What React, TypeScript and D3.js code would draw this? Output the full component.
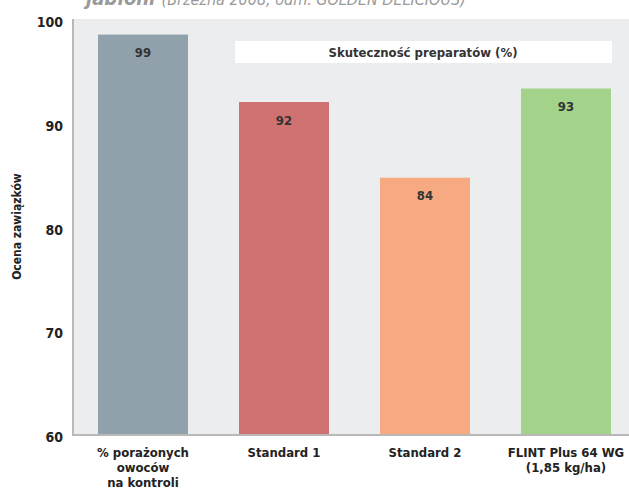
import React, { useEffect, useRef } from 'react';
import * as d3 from 'd3';

// categories (multi-line labels) and values
const categories = [
	['% porażonych', 'owoców', 'na kontroli'],
	['Standard 1'],
	['Standard 2'],
	['FLINT Plus 64 WG', '(1,85 kg/ha)'],
];
const values = [98.5, 92, 84.7, 93.3];
const valueLabels = ['99', '92', '84', '93'];
const colors = ['#91a1ab', '#d07272', '#f7a981', '#a3d28a'];
const yTicks = [60, 70, 80, 90, 100];

const FONT = '"DejaVu Sans Condensed", "DejaVu Sans", sans-serif';

export default function App() {
	const ref = useRef<SVGSVGElement>(null);

	useEffect(() => {
		const svg = d3.select(ref.current);
		svg.selectAll('*').remove();

		const width = 629, height = 491;
		// plot area
		const left = 74, right = 629, top = 19, bottom = 434;

		const y = d3.scaleLinear().domain([60, 100]).range([bottom, top]);
		// step 141, bar 90
		const pad = 51 / 141;
		const x = d3.scaleBand<number>()
			.domain(d3.range(values.length))
			.range([72.5, 636.5])
			.paddingInner(pad)
			.paddingOuter(pad / 2);

		// clipped title at the very top
		const title = svg.append('text')
			.attr('x', 86).attr('y', 5)
			.attr('font-family', FONT)
			.attr('font-style', 'italic')
			.attr('fill', '#9a9a9a');
		title.append('tspan').attr('font-weight', 'bold').attr('font-size', 20).text('jabłoni ');
		title.append('tspan').attr('font-size', 16).text('(Brzezna 2008, odm. GOLDEN DELICIOUS)');

		// background
		svg.append('rect')
			.attr('x', left).attr('y', top)
			.attr('width', right - left).attr('height', bottom - top)
			.attr('fill', '#ecedef');

		// white label box
		svg.append('rect')
			.attr('x', 235).attr('y', 41).attr('width', 377).attr('height', 22)
			.attr('fill', '#ffffff');
		svg.append('text')
			.attr('x', 423).attr('y', 52)
			.attr('text-anchor', 'middle').attr('dominant-baseline', 'central')
			.attr('font-family', FONT).attr('font-weight', 'bold').attr('font-size', 13)
			.attr('fill', '#333')
			.text('Skuteczność preparatów (%)');

		// bars
		const bars = svg.append('g');
		bars.selectAll('rect')
			.data(values)
			.enter()
			.append('rect')
			.attr('x', (d, i) => x(i)!)
			.attr('width', x.bandwidth())
			.attr('y', d => y(d))
			.attr('height', d => bottom - y(d))
			.attr('fill', (d, i) => colors[i]);

		bars.selectAll('text')
			.data(values)
			.enter()
			.append('text')
			.attr('x', (d, i) => x(i)! + x.bandwidth() / 2)
			.attr('y', d => y(d) + 18)
			.attr('text-anchor', 'middle').attr('dominant-baseline', 'central')
			.attr('font-family', FONT).attr('font-weight', 'bold').attr('font-size', 13)
			.attr('fill', '#333')
			.text((d, i) => valueLabels[i]);

		// axes lines
		svg.append('line')
			.attr('x1', left - 1).attr('x2', left - 1)
			.attr('y1', top).attr('y2', bottom + 2)
			.attr('stroke', '#b8b8b8').attr('stroke-width', 2);
		svg.append('line')
			.attr('x1', left - 2).attr('x2', right)
			.attr('y1', bottom + 1).attr('y2', bottom + 1)
			.attr('stroke', '#b8b8b8').attr('stroke-width', 2);

		// y tick labels
		svg.append('g').selectAll('text')
			.data(yTicks)
			.enter()
			.append('text')
			.attr('x', 63).attr('y', d => y(d) + 3)
			.attr('text-anchor', 'end').attr('dominant-baseline', 'central')
			.attr('font-family', FONT).attr('font-weight', 'bold').attr('font-size', 14)
			.attr('fill', '#222')
			.text(d => d);

		// y axis title
		svg.append('text')
			.attr('transform', `translate(17,${(top + bottom) / 2}) rotate(-90)`)
			.attr('text-anchor', 'middle').attr('dominant-baseline', 'central')
			.attr('font-family', FONT).attr('font-weight', 'bold').attr('font-size', 12)
			.attr('fill', '#222')
			.text('Ocena zawiązków');

		// x category labels
		const xl = svg.append('g');
		categories.forEach((lines, i) => {
			const cx = x(i)! + x.bandwidth() / 2;
			const t = xl.append('text')
				.attr('x', cx)
				.attr('y', 453)
				.attr('text-anchor', 'middle')
				.attr('font-family', FONT).attr('font-weight', 'bold').attr('font-size', 13)
				.attr('fill', '#222');
			lines.forEach((l, j) => {
				t.append('tspan')
					.attr('x', cx)
					.attr('dy', j === 0 ? 4 : 15)
					.text(l);
			});
		});

		svg.attr('width', width).attr('height', height);
	}, []);

	return (
		<svg ref={ref} width={629} height={491}
			style={{ position: 'absolute', left: 0, top: 0, background: '#fff' }} />
	);
}
